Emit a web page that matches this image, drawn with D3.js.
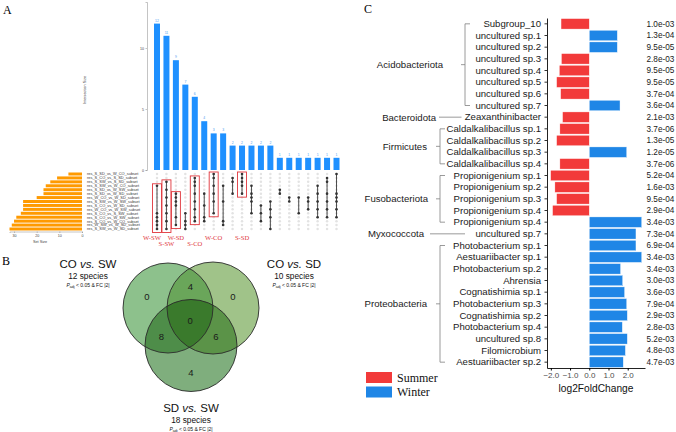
<!DOCTYPE html>
<html>
<head>
<meta charset="UTF-8">
<script src="https://d3js.org/d3.v7.min.js"></script>
<title>Upset / Venn / log2FC</title>
<style>
  body { margin: 0; background: #fff; }
  svg { display: block; font-family: "Liberation Sans", Arial, sans-serif; }
  .panel-tag { font-family: "Liberation Serif", "Times New Roman", serif; font-size: 12px; }
  .tiny text { font-size: 3.6px; fill: #444; }
  .tiny path, .tiny line { stroke: #888; stroke-width: 0.5; }
</style>
</head>
<body>
<script>
// ---------- Panel A: upset plot ----------
const interSizes = [12, 11, 9, 7, 6, 4, 3, 3, 2, 2, 2, 2, 2, 1, 1, 1, 1, 1, 1, 1];
// rows (0 = top set) that belong to each intersection column
const interRows = [
  [3, 10, 11, 12, 13, 14],
  [2, 4, 6, 8, 10, 12, 14],
  [5, 6, 7, 8, 11, 13],
  [10, 12, 13, 14],
  [1, 2, 3, 5, 7, 9, 11, 12],
  [5, 8, 11, 12],
  [0, 1, 3, 5, 7, 10],
  [3, 7, 12, 13],
  [1, 2, 5],
  [0, 1, 2, 3, 5],
  [3, 5, 6, 7, 10],
  [8, 10, 12],
  [7, 9, 11, 14],
  [4, 5],
  [6, 7],
  [6, 10],
  [6, 7, 9],
  [3, 5, 7, 9, 11],
  [1, 2, 5, 7, 9, 11],
  [0, 5, 6, 7, 9, 11]
];
const setNames = [
  "res_S_SD_vs_W_CO_subset", "res_S_CO_vs_S_SD_subset", "res_S_SW_vs_S_SD_subset",
  "res_S_SW_vs_W_CO_subset", "res_S_SD_vs_W_SW_subset", "res_S_SD_vs_W_SD_subset",
  "res_W_CO_vs_W_SD_subset", "res_S_SW_vs_W_SW_subset", "res_S_CO_vs_W_SD_subset",
  "res_W_CO_vs_W_SW_subset", "res_S_CO_vs_S_SW_subset", "res_S_CO_vs_W_SW_subset",
  "res_S_CO_vs_W_CO_subset", "res_W_SW_vs_W_SD_subset", "res_S_SW_vs_W_SD_subset"
];
const setSizes = [6, 11, 14, 16, 17, 17, 20, 26, 26, 26, 27, 29, 30, 31, 32];
const boxedCols = [0, 1, 2, 4, 6, 9];
const boxNames = ["W-SW", "S-SW", "W-SD", "S-CO", "W-CO", "S-SD"];
const boxLevel = [0, 1, 0, 1, 0, 0];

// ---------- Panel B: Venn ----------
const vennTitles = [["CO", "SW"], ["CO", "SD"], ["SD", "SW"]];
const vennSpecies = [12, 10, 18];
// A only, B only, C only, A&B, A&C, B&C, A&B&C
const vennCounts = [0, 0, 4, 4, 8, 6, 0];

// ---------- Panel C: log2FoldChange ----------
const taxa = [
  "Subgroup_10", "uncultured sp.1", "uncultured sp.2", "uncultured sp.3", "uncultured sp.4",
  "uncultured sp.5", "uncultured sp.6", "uncultured sp.7", "Zeaxanthinibacter",
  "Caldalkalibacillus sp.1", "Caldalkalibacillus sp.2", "Caldalkalibacillus sp.3", "Caldalkalibacillus sp.4",
  "Propionigenium sp.1", "Propionigenium sp.2", "Propionigenium sp.3", "Propionigenium sp.4",
  "Propionigenium sp.4", "uncultured sp.7", "Photobacterium sp.1", "Aestuariibacter sp.1",
  "Photobacterium sp.2", "Ahrensia", "Cognatishimia sp.1", "Photobacterium sp.3",
  "Cognatishimia sp.2", "Photobacterium sp.4", "uncultured sp.8", "Filomicrobium", "Aestuariibacter sp.2"
];
const phylumOf = [
  "Acidobacteriota", "Acidobacteriota", "Acidobacteriota", "Acidobacteriota", "Acidobacteriota",
  "Acidobacteriota", "Acidobacteriota", "Acidobacteriota", "Bacteroidota",
  "Firmicutes", "Firmicutes", "Firmicutes", "Firmicutes",
  "Fusobacteriota", "Fusobacteriota", "Fusobacteriota", "Fusobacteriota", "Fusobacteriota",
  "Myxococcota", "Proteobacteria", "Proteobacteria", "Proteobacteria", "Proteobacteria",
  "Proteobacteria", "Proteobacteria", "Proteobacteria", "Proteobacteria", "Proteobacteria",
  "Proteobacteria", "Proteobacteria"
];
const log2fc = [
  -1.47, 1.46, 1.46, -1.45, -1.56, -1.70, -1.49, 1.60, -1.39,
  -1.53, -1.70, 1.95, -1.53,
  -2.01, -1.79, -1.70, -1.91, 2.73,
  2.43, 2.43, 2.73, 1.63, 1.74, 1.84, 1.95, 1.98, 1.72, 1.98, 1.88, 1.77
];
const padj = [
  "1.0e-03", "1.3e-04", "9.5e-05", "2.8e-03", "9.5e-05", "9.5e-05", "3.7e-04", "3.6e-04", "2.1e-03",
  "3.7e-06", "1.3e-05", "1.2e-05", "3.7e-06", "5.2e-04", "1.6e-03", "9.5e-04", "2.9e-04",
  "3.4e-03", "7.3e-04", "6.9e-04", "3.4e-03", "3.4e-03", "3.0e-03", "3.6e-03", "7.9e-04",
  "2.9e-03", "2.8e-03", "5.2e-03", "4.8e-03", "4.7e-03"
];
const seasons = ["Summer", "Winter"];
const seasonColor = { Summer: "#f23a3a", Winter: "#1f86e6" };

const svg = d3.select("body").append("svg").attr("width", 676).attr("height", 432);

svg.append("text").attr("class", "panel-tag").attr("x", 3).attr("y", 14).text("A");
svg.append("text").attr("class", "panel-tag").attr("x", 2).attr("y", 265).text("B");
svg.append("text").attr("class", "panel-tag").attr("x", 364).attr("y", 13).text("C");

// ================= Panel A =================
const ups = svg.append("g");
const colX = d3.scalePoint().domain(d3.range(interSizes.length)).range([157, 336.5]);
const yInter = d3.scaleLinear().domain([0, 13.77]).range([170, 2]);
const rowY = d3.scalePoint().domain(d3.range(setNames.length)).range([174, 229]);
const xSet = d3.scaleLinear().domain([0, 32]).range([82, 9.5]);

ups.append("g").attr("class", "tiny")
  .attr("transform", "translate(147,0)")
  .call(d3.axisLeft(yInter).tickValues([0, 5, 10]).tickSize(1.5).tickPadding(1.5));

ups.append("text").attr("transform", "translate(86,90) rotate(-90)")
  .attr("text-anchor", "middle").style("font-size", "3.8px").attr("fill", "#444")
  .text("Intersection Size");

ups.selectAll(".ibar").data(interSizes).join("rect")
  .attr("x", (d, i) => colX(i) - 3).attr("width", 6)
  .attr("y", d => yInter(d)).attr("height", d => yInter(0) - yInter(d))
  .attr("fill", "#1e90ff");

ups.selectAll(".ilab").data(interSizes).join("text")
  .attr("x", (d, i) => colX(i)).attr("y", d => yInter(d) - 2)
  .attr("text-anchor", "middle").style("font-size", "3.4px").attr("fill", "#4a9cf0")
  .text(d => d);

// matrix background dots
const cells = [];
interSizes.forEach((_, c) => setNames.forEach((_, r) => cells.push([c, r])));
ups.selectAll(".bg").data(cells).join("circle")
  .attr("cx", d => colX(d[0])).attr("cy", d => rowY(d[1])).attr("r", 1.25)
  .attr("fill", "#e3e3e3");

interRows.forEach((rows, c) => {
  ups.append("line")
    .attr("x1", colX(c)).attr("x2", colX(c))
    .attr("y1", rowY(d3.min(rows))).attr("y2", rowY(d3.max(rows)))
    .attr("stroke", "#3a3a3a").attr("stroke-width", 0.9);
  ups.selectAll(null).data(rows).join("circle")
    .attr("cx", colX(c)).attr("cy", r => rowY(r)).attr("r", 1.3)
    .attr("fill", "#333");
});

// highlighted columns
boxedCols.forEach((c, k) => {
  const rows = interRows[c];
  const y0 = rowY(d3.min(rows)) - 2, y1 = rowY(d3.max(rows)) + 3.5;
  ups.append("rect")
    .attr("x", colX(c) - 4.5).attr("width", 9)
    .attr("y", y0).attr("height", y1 - y0)
    .attr("fill", "none").attr("stroke", "#e0363c").attr("stroke-width", 0.9);
  ups.append("text")
    .attr("x", colX(c) - (k === 0 ? 5 : 0)).attr("y", boxLevel[k] ? 245.5 : 239.5)
    .attr("text-anchor", "middle")
    .style("font-family", "'Liberation Serif', 'Times New Roman', serif")
    .style("font-size", "6.6px").attr("fill", "#e0363c")
    .text(boxNames[k]);
});

// set size bars
ups.selectAll(".sbar").data(setSizes).join("rect")
  .attr("x", d => xSet(d)).attr("width", d => xSet(0) - xSet(d))
  .attr("y", (d, i) => rowY(i) - 1.5).attr("height", 3)
  .attr("fill", "#ff9a00");

ups.selectAll(".slab").data(setNames).join("text")
  .attr("x", 87).attr("y", (d, i) => rowY(i)).attr("dy", "0.35em")
  .style("font-size", "3.9px").attr("fill", "#333")
  .text(d => d);

ups.append("g").attr("class", "tiny")
  .attr("transform", "translate(0,231.5)")
  .call(d3.axisBottom(xSet).tickValues([0, 10, 20, 30]).tickSize(1.5).tickPadding(1));

ups.append("text").attr("x", 40).attr("y", 243)
  .attr("text-anchor", "middle").style("font-size", "3.8px").attr("fill", "#444")
  .text("Set Size");

// ================= Panel B =================
const venn = svg.append("g");
const circles = [
  { cx: 168, cy: 308, r: 45 },
  { cx: 213, cy: 308, r: 46 },
  { cx: 191, cy: 345.5, r: 46 }
];
const defs = svg.append("defs");
circles.forEach((c, i) => {
  defs.append("clipPath").attr("id", "vc" + i)
    .append("circle").attr("cx", c.cx).attr("cy", c.cy).attr("r", c.r);
});
const baseFill = ["#8dc18c", "#a0c389", "#7fae7d"];
circles.forEach((c, i) => {
  venn.append("circle").attr("cx", c.cx).attr("cy", c.cy).attr("r", c.r).attr("fill", baseFill[i]);
});
function overlap(a, b, fill) {
  venn.append("g").attr("clip-path", `url(#vc${a})`)
    .append("circle").attr("cx", circles[b].cx).attr("cy", circles[b].cy).attr("r", circles[b].r)
    .attr("fill", fill);
}
overlap(0, 1, "#6aa65a");
overlap(0, 2, "#4e8d49");
overlap(1, 2, "#5b9348");
venn.append("g").attr("clip-path", "url(#vc0)")
  .append("g").attr("clip-path", "url(#vc1)")
  .append("circle").attr("cx", circles[2].cx).attr("cy", circles[2].cy).attr("r", circles[2].r)
  .attr("fill", "#3a7a2c");
circles.forEach(c => {
  venn.append("circle").attr("cx", c.cx).attr("cy", c.cy).attr("r", c.r)
    .attr("fill", "none").attr("stroke", "#2b2b2b").attr("stroke-width", 0.9);
});

const regionPos = [
  [circles[0].cx - 21, circles[0].cy - 11],
  [circles[1].cx + 20, circles[1].cy - 11],
  [circles[2].cx, circles[2].cy + 27],
  [(circles[0].cx + circles[1].cx) / 2, circles[0].cy - 21],
  [(circles[0].cx + circles[2].cx) / 2 - 18, (circles[0].cy + circles[2].cy) / 2 + 10],
  [(circles[1].cx + circles[2].cx) / 2 + 14, (circles[1].cy + circles[2].cy) / 2 + 10],
  [d3.mean(circles, c => c.cx) - 0.5, d3.mean(circles, c => c.cy)]
];
venn.selectAll(".vnum").data(vennCounts).join("text")
  .attr("x", (d, i) => regionPos[i][0]).attr("y", (d, i) => regionPos[i][1])
  .attr("dy", "0.35em").attr("text-anchor", "middle")
  .style("font-size", "9.5px").attr("fill", "#1a1a1a")
  .text(d => d);

const titlePos = [[88, 268], [294, 268], [191, 412]];
vennTitles.forEach((t, i) => {
  const [x, y] = titlePos[i];
  const tt = venn.append("text").attr("x", x).attr("y", y).attr("text-anchor", "middle")
    .style("font-size", "11.5px").attr("fill", "#111");
  tt.append("tspan").text(t[0] + " ");
  tt.append("tspan").style("font-style", "italic").text("vs.");
  tt.append("tspan").text(" " + t[1]);
  venn.append("text").attr("x", x).attr("y", y + 11).attr("text-anchor", "middle")
    .style("font-size", "8.3px").attr("fill", "#111")
    .text(vennSpecies[i] + " species");
  const p = venn.append("text").attr("x", x).attr("y", y + 19).attr("text-anchor", "middle")
    .style("font-size", "5px").attr("fill", "#111");
  p.append("tspan").style("font-style", "italic").text("P");
  p.append("tspan").attr("dy", 1.2).style("font-size", "3.6px").text("adj");
  p.append("tspan").attr("dy", -1.2).text(" < 0.05 & FC |2|");
});

// ================= Panel C =================
const fc = svg.append("g");
const x = d3.scaleLinear().domain([-2.2, 2.9]).range([547, 645]);
const y = d3.scaleBand().domain(d3.range(taxa.length)).range([18, 368]).paddingInner(0.1).paddingOuter(0.05);

fc.selectAll(".fbar").data(log2fc).join("rect")
  .attr("x", d => x(Math.min(0, d))).attr("width", d => Math.abs(x(d) - x(0)))
  .attr("y", (d, i) => y(i)).attr("height", y.bandwidth())
  .attr("fill", d => d < 0 ? seasonColor.Summer : seasonColor.Winter)
  .attr("stroke", "#fff").attr("stroke-width", 0.4);

const yAx = fc.append("g").attr("transform", "translate(547,0)")
  .call(d3.axisLeft(y).tickFormat(i => taxa[i]).tickSize(2.5).tickPadding(3.5).tickSizeOuter(0));
yAx.selectAll("text").style("font-size", "9.6px").attr("fill", "#1a1a1a");
yAx.select(".domain").attr("stroke", "#222");
yAx.selectAll(".tick line").attr("stroke", "#333");

const xAx = fc.append("g").attr("transform", "translate(0,368)")
  .call(d3.axisBottom(x).tickValues([-2, -1, 0, 1, 2]).tickSize(2.5).tickPadding(2).tickSizeOuter(0));
xAx.selectAll("text").style("font-size", "8px").attr("fill", "#4d4d4d");
xAx.select(".domain").attr("stroke", "#222");

fc.append("text").attr("x", 596).attr("y", 392).attr("text-anchor", "middle")
  .style("font-size", "10.2px").attr("fill", "#111").text("log2FoldChange");

fc.selectAll(".pv").data(padj).join("text")
  .attr("x", 646.5).attr("y", (d, i) => y(i) + y.bandwidth() / 2).attr("dy", "0.35em")
  .style("font-size", "8.2px").attr("fill", "#1a1a1a")
  .text(d => d);

// phylum brackets
const phylumLayout = {
  Acidobacteriota: { bx: 465, lx: 443 },
  Bacteroidota: { line: [439, 461.5], lx: 436 },
  Firmicutes: { bx: 440, lx: 427 },
  Fusobacteriota: { bx: 440, lx: 428 },
  Myxococcota: { line: [430, 465], lx: 424 },
  Proteobacteria: { bx: 440, lx: 427 }
};
const groups = d3.groups(d3.range(taxa.length), i => phylumOf[i]);
groups.forEach(([name, idx]) => {
  const L = phylumLayout[name];
  const yTop = y(d3.min(idx)) + y.bandwidth() / 2;
  const yBot = y(d3.max(idx)) + y.bandwidth() / 2;
  const yMid = (yTop + yBot) / 2;
  if (L.line) {
    fc.append("line").attr("x1", L.line[0]).attr("x2", L.line[1]).attr("y1", yMid).attr("y2", yMid)
      .attr("stroke", "#808080").attr("stroke-width", 0.8);
  } else {
    fc.append("path")
      .attr("d", `M${L.bx + 5},${yTop}H${L.bx}V${yBot}H${L.bx + 5}M${L.bx},${yMid}H${L.bx - 4}`)
      .attr("fill", "none").attr("stroke", "#808080").attr("stroke-width", 0.8);
  }
  fc.append("text").attr("x", L.lx).attr("y", yMid).attr("dy", "0.35em")
    .attr("text-anchor", "end").style("font-size", "9.6px").attr("fill", "#1a1a1a")
    .text(name);
});

// legend
const leg = fc.append("g");
seasons.forEach((s, i) => {
  leg.append("rect").attr("x", 366).attr("y", 372 + i * 14.5).attr("width", 26).attr("height", 11)
    .attr("fill", seasonColor[s]);
  leg.append("text").attr("x", 397).attr("y", 377.5 + i * 14.5).attr("dy", "0.35em")
    .style("font-family", "'Liberation Serif', 'Times New Roman', serif")
    .style("font-size", "12px").attr("fill", "#111")
    .text(s);
});
</script>
</body>
</html>
